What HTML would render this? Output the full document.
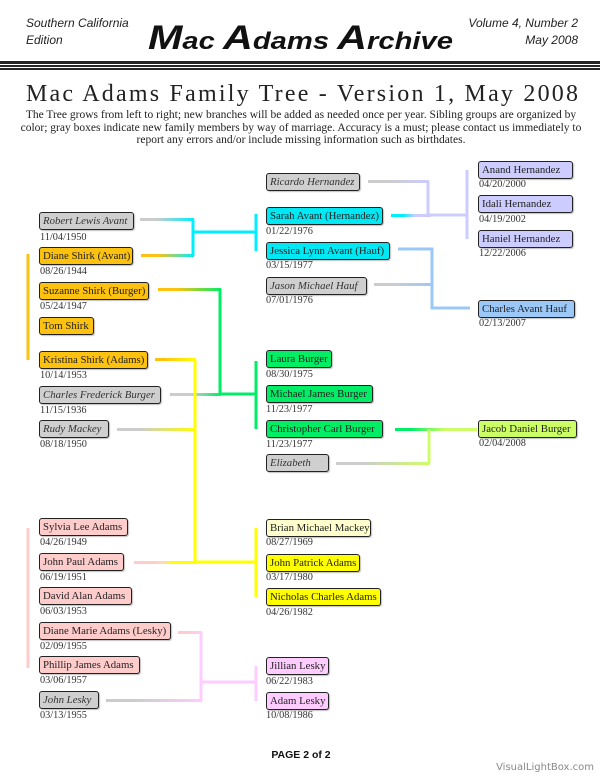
<!DOCTYPE html>
<html><head><meta charset="utf-8"><style>
*{margin:0;padding:0;box-sizing:border-box}
body{width:600px;height:776px;background:#fff;position:relative;overflow:hidden;font-family:"Liberation Serif",serif}
.b{position:absolute;height:18px;border:1.5px solid #222;border-radius:3px;font-size:10.8px;line-height:16px;padding-left:3px;white-space:nowrap;color:#222;box-shadow:1px 1px 1px rgba(0,0,0,.25);overflow:hidden}
.g{background:#cfcfcf;font-style:italic;color:#333}
.o{background:#fdc20f}.c{background:#00e8f4}.l{background:#ccccff}.lb{background:#9cc8f8}
.gr{background:#00ee66}.li{background:#ccff66}.pk{background:#ffcccc}.ly{background:#ffffcc}.y{background:#ffff00}.pp{background:#ffccff}
.d{position:absolute;font-size:10.3px;color:#333}
.hs{position:absolute;font-family:"Liberation Sans",sans-serif;font-style:italic;font-size:12px;color:#222;line-height:17px}
</style></head><body>
<div class="hs" style="left:26px;top:15px">Southern California<br>Edition</div>
<div class="hs" style="right:22px;top:15px;text-align:right">Volume 4, Number 2<br>May 2008</div>
<svg style="position:absolute;left:0;top:0" width="600" height="776">
<text x="148" y="49" textLength="305" lengthAdjust="spacingAndGlyphs" font-family="Liberation Sans,sans-serif" font-weight="bold" font-style="italic" font-size="24" fill="#111"><tspan font-size="34">M</tspan>ac <tspan font-size="34">A</tspan>dams <tspan font-size="34">A</tspan>rchive</text>
<rect x="0" y="61" width="600" height="3" fill="#222"/><rect x="0" y="65" width="600" height="2" fill="#222"/><rect x="0" y="68" width="600" height="2" fill="#222"/>
<text x="302" y="101" text-anchor="middle" textLength="552" lengthAdjust="spacing" font-family="Liberation Serif,serif" font-size="24" fill="#222">Mac Adams Family Tree  - Version 1, May 2008</text>
<defs>
<linearGradient id="gc" x1="0" x2="1"><stop offset="0.3" stop-color="#ccc"/><stop offset="1" stop-color="#00eeff"/></linearGradient>
<linearGradient id="oc" x1="0" x2="1"><stop offset="0.3" stop-color="#fdc20f"/><stop offset="1" stop-color="#00eeff"/></linearGradient>
<linearGradient id="og" x1="0" x2="1"><stop offset="0.3" stop-color="#fdc20f"/><stop offset="1" stop-color="#00ee66"/></linearGradient>
<linearGradient id="gg" x1="0" x2="1"><stop offset="0.4" stop-color="#ccc"/><stop offset="1" stop-color="#00ee66"/></linearGradient>
<linearGradient id="oy" x1="0" x2="1"><stop offset="0.2" stop-color="#fdc20f"/><stop offset="1" stop-color="#ffff00"/></linearGradient>
<linearGradient id="gy" x1="0" x2="1"><stop offset="0.3" stop-color="#ccc"/><stop offset="1" stop-color="#ffff00"/></linearGradient>
<linearGradient id="gl" x1="0" x2="1"><stop offset="0.3" stop-color="#ccc"/><stop offset="1" stop-color="#ccccff"/></linearGradient>
<linearGradient id="cl" x1="0" x2="1"><stop offset="0.3" stop-color="#00eeff"/><stop offset="0.6" stop-color="#ccccff"/></linearGradient>
<linearGradient id="gb" x1="0" x2="1"><stop offset="0.3" stop-color="#ccc"/><stop offset="1" stop-color="#9cc8f8"/></linearGradient>
<linearGradient id="grl" x1="0" x2="1"><stop offset="0.2" stop-color="#00ee66"/><stop offset="0.6" stop-color="#ccff66"/></linearGradient>
<linearGradient id="gli" x1="0" x2="1"><stop offset="0.3" stop-color="#ccc"/><stop offset="1" stop-color="#ccff66"/></linearGradient>
<linearGradient id="py" x1="0" x2="1"><stop offset="0.3" stop-color="#ffcccc"/><stop offset="0.5" stop-color="#ffddaa"/><stop offset="0.6" stop-color="#ffff00"/></linearGradient>
<linearGradient id="pp" x1="0" x2="1"><stop offset="0.3" stop-color="#ffcccc"/><stop offset="1" stop-color="#ffccff"/></linearGradient>
<linearGradient id="gp" x1="0" x2="1"><stop offset="0.3" stop-color="#ccc"/><stop offset="1" stop-color="#ffccff"/></linearGradient>
</defs>
<g stroke-width="3" fill="none">
<line x1="28" y1="254" x2="28" y2="360" stroke="#fdc20f"/>
<rect x="140" y="218" width="54" height="3" fill="url(#gc)" stroke="none"/>
<rect x="141" y="254" width="53" height="3" fill="url(#oc)" stroke="none"/>
<path d="M193 219V256M193 232H256M256 214V251" stroke="#00eeff"/>
<rect x="158" y="288" width="63" height="3" fill="url(#og)" stroke="none"/>
<path d="M220 289V394M220 394H256M256 361V429" stroke="#00ee66"/>
<rect x="170" y="393" width="51" height="3" fill="url(#gg)" stroke="none"/>
<rect x="155" y="358" width="41" height="3" fill="url(#oy)" stroke="none"/>
<rect x="117" y="428" width="79" height="3" fill="url(#gy)" stroke="none"/>
<path d="M195 359V562M195 562H256M256 528V597" stroke="#ffff00"/>
<rect x="134" y="561" width="62" height="3" fill="url(#py)" stroke="none"/>
<rect x="368" y="180" width="61" height="3" fill="url(#gl)" stroke="none"/>
<path d="M428 181V215M428 215H467M467 170V239" stroke="#ccccff"/>
<rect x="391" y="214" width="40" height="3" fill="url(#cl)" stroke="none"/>
<path d="M398 249H432V308H470" stroke="#9cc8f8"/>
<rect x="374" y="283" width="59" height="3" fill="url(#gb)" stroke="none"/>
<rect x="395" y="428" width="82" height="3" fill="url(#grl)" stroke="none"/>
<path d="M429 429V463" stroke="#ccff66"/>
<rect x="336" y="462" width="94" height="3" fill="url(#gli)" stroke="none"/>
<line x1="28" y1="528" x2="28" y2="668" stroke="#ffcccc"/>
<rect x="178" y="631" width="24" height="3" fill="url(#pp)" stroke="none"/>
<rect x="106" y="699" width="96" height="3" fill="url(#gp)" stroke="none"/>
<path d="M201 632V701M201 682H256M256 666V701" stroke="#ffccff"/>
</g>
<text x="301" y="758" text-anchor="middle" font-family="Liberation Sans,sans-serif" font-weight="bold" font-size="10.5" fill="#111">PAGE 2 of 2</text>
<text x="594" y="770" text-anchor="end" font-family="DejaVu Sans,sans-serif" font-size="10" fill="#888">VisualLightBox.com</text>
</svg>
<div style="position:absolute;left:0;top:109px;width:602px;text-align:center;font-size:11.5px;line-height:12.6px;color:#222;white-space:nowrap">The Tree grows from left to right; new branches will be added as needed once per year. Sibling groups are organized by<br>color; gray boxes indicate new family members by way of marriage. Accuracy is a must; please contact us immediately to<br>report any errors and/or include missing information such as birthdates.</div>

<div class="b g" style="left:39px;top:212px;width:95px">Robert Lewis Avant</div><div class="d" style="left:40px;top:232px">11/04/1950</div>
<div class="b o" style="left:39px;top:247px;width:94px">Diane Shirk (Avant)</div><div class="d" style="left:40px;top:266px">08/26/1944</div>
<div class="b o" style="left:39px;top:282px;width:110px">Suzanne Shirk (Burger)</div><div class="d" style="left:40px;top:301px">05/24/1947</div>
<div class="b o" style="left:39px;top:317px;width:55px">Tom Shirk</div>
<div class="b o" style="left:39px;top:351px;width:109px">Kristina Shirk (Adams)</div><div class="d" style="left:40px;top:370px">10/14/1953</div>
<div class="b g" style="left:39px;top:386px;width:122px">Charles Frederick Burger</div><div class="d" style="left:40px;top:405px">11/15/1936</div>
<div class="b g" style="left:39px;top:420px;width:70px">Rudy Mackey</div><div class="d" style="left:40px;top:439px">08/18/1950</div>

<div class="b g" style="left:266px;top:173px;width:94px">Ricardo Hernandez</div>
<div class="b c" style="left:266px;top:207px;width:117px">Sarah Avant (Hernandez)</div><div class="d" style="left:266px;top:226px">01/22/1976</div>
<div class="b c" style="left:266px;top:242px;width:124px">Jessica Lynn Avant (Hauf)</div><div class="d" style="left:266px;top:260px">03/15/1977</div>
<div class="b g" style="left:266px;top:277px;width:101px">Jason Michael Hauf</div><div class="d" style="left:266px;top:295px">07/01/1976</div>
<div class="b gr" style="left:266px;top:350px;width:66px">Laura Burger</div><div class="d" style="left:266px;top:369px">08/30/1975</div>
<div class="b gr" style="left:266px;top:385px;width:107px">Michael James Burger</div><div class="d" style="left:266px;top:404px">11/23/1977</div>
<div class="b gr" style="left:266px;top:420px;width:117px">Christopher Carl Burger</div><div class="d" style="left:266px;top:439px">11/23/1977</div>
<div class="b g" style="left:266px;top:454px;width:63px">Elizabeth</div>

<div class="b l" style="left:478px;top:161px;width:95px">Anand Hernandez</div><div class="d" style="left:479px;top:179px">04/20/2000</div>
<div class="b l" style="left:478px;top:195px;width:95px">Idali Hernandez</div><div class="d" style="left:479px;top:214px">04/19/2002</div>
<div class="b l" style="left:478px;top:230px;width:95px">Haniel Hernandez</div><div class="d" style="left:479px;top:248px">12/22/2006</div>
<div class="b lb" style="left:478px;top:300px;width:97px">Charles Avant Hauf</div><div class="d" style="left:479px;top:318px">02/13/2007</div>
<div class="b li" style="left:478px;top:420px;width:99px">Jacob Daniel Burger</div><div class="d" style="left:479px;top:438px">02/04/2008</div>

<div class="b pk" style="left:39px;top:518px;width:89px">Sylvia Lee Adams</div><div class="d" style="left:40px;top:537px">04/26/1949</div>
<div class="b pk" style="left:39px;top:553px;width:85px">John Paul Adams</div><div class="d" style="left:40px;top:572px">06/19/1951</div>
<div class="b pk" style="left:39px;top:587px;width:93px">David Alan Adams</div><div class="d" style="left:40px;top:606px">06/03/1953</div>
<div class="b pk" style="left:39px;top:622px;width:132px">Diane Marie Adams (Lesky)</div><div class="d" style="left:40px;top:641px">02/09/1955</div>
<div class="b pk" style="left:39px;top:656px;width:101px">Phillip James Adams</div><div class="d" style="left:40px;top:675px">03/06/1957</div>
<div class="b g" style="left:39px;top:691px;width:60px">John Lesky</div><div class="d" style="left:40px;top:710px">03/13/1955</div>

<div class="b ly" style="left:266px;top:519px;width:105px">Brian Michael Mackey</div><div class="d" style="left:266px;top:537px">08/27/1969</div>
<div class="b y" style="left:266px;top:554px;width:94px">John Patrick Adams</div><div class="d" style="left:266px;top:572px">03/17/1980</div>
<div class="b y" style="left:266px;top:588px;width:115px">Nicholas Charles Adams</div><div class="d" style="left:266px;top:607px">04/26/1982</div>
<div class="b pp" style="left:266px;top:657px;width:63px">Jillian Lesky</div><div class="d" style="left:266px;top:676px">06/22/1983</div>
<div class="b pp" style="left:266px;top:692px;width:63px">Adam Lesky</div><div class="d" style="left:266px;top:710px">10/08/1986</div>
</body></html>
